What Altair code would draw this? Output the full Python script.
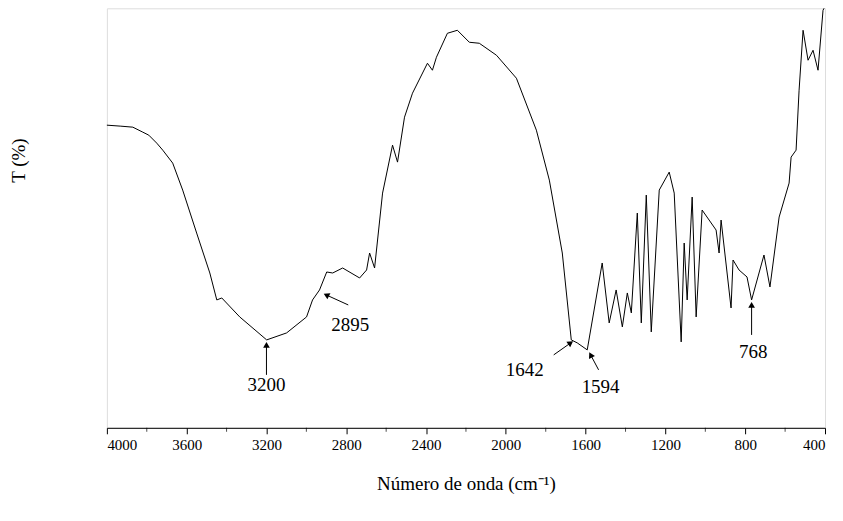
import altair as alt
import pandas as pd

wn = [4000,3930,3870,3820,3790,3750,3720,3670,3620,3550,3484,3449,3424,3334,3199,3099,2999,2969,2934,2898,2868,2818,2733,2698,2683,2658,2618,2568,2543,2508,2468,2393,2368,2348,2293,2243,2183,2133,2047,1947,1847,1782,1717,1672,1642,1592,1517,1482,1447,1416,1391,1371,1341,1321,1296,1271,1231,1181,1156,1121,1106,1091,1066,1046,1016,946,931,921,871,861,831,791,768,706,676,630,580,570,545,530,510,485,460,435,410,405]
T = [303,302,301,296,293,285,278,265,238,195,155,128,130,111,88,95,111,128,138,156,155,160,150,158,175,160,235,283,266,311,335,365,358,371,395,398,386,385,373,350,298,248,175,88,85,78,165,105,138,101,135,115,215,105,233,96,238,256,235,86,185,128,231,111,218,198,175,208,120,168,158,151,128,173,141,211,245,271,278,338,398,368,378,358,418,420]

ann_text = ["3200","2895","1642","1594","768"]
ann_tx = [3200,2780,1905,1525,760]
ann_ty = [43,103,58,41,76]
tail_x = [3200,2790,1760,1535,768]
tail_y = [53,123,73,58,93]
head_x = [3200,2900,1675,1575,768]
head_y = [83,133,85,73,123]
head_ang = [0,297,55,332,0]

df = pd.DataFrame({"wn": wn, "T": T})
ann = pd.DataFrame({"t": ann_text, "tx": ann_tx, "ty": ann_ty, "x1": tail_x, "y1": tail_y,
                    "x2": head_x, "y2": head_y, "ang": head_ang})

font = "Liberation Serif"
xs = alt.Scale(domain=[4000, 400], nice=False)
ys = alt.Scale(domain=[0, 420])

line = alt.Chart(df).mark_line(color="black", strokeWidth=1).encode(
    x=alt.X("wn:Q", scale=xs,
            axis=alt.Axis(values=list(range(4000, 399, -400)), format="d", title="Número de onda (cm⁻¹)",
                          grid=False, tickSize=6, labelFont=font, labelFontSize=15, labelColor="black",
                          titleFont=font, titleFontSize=19, titleFontWeight="normal", titleColor="black",
                          titlePadding=22, domainColor="black", tickColor="black", labelPadding=4)),
    y=alt.Y("T:Q", scale=ys,
            axis=alt.Axis(title="T (%)", labels=False, ticks=False, domain=False, grid=False,
                          titleFont=font, titleFontSize=19, titleFontWeight="normal", titleColor="black",
                          titleX=-78, titleY=152)),
)
minor = alt.Chart(pd.DataFrame({"m": list(range(3800, 399, -400))})).mark_tick(
    color="black", orient="vertical", size=4, thickness=1).encode(
    x=alt.X("m:Q", scale=xs), y=alt.value(422))

rules = alt.Chart(ann).mark_rule(color="black", strokeWidth=1).encode(
    x=alt.X("x1:Q", scale=xs), y=alt.Y("y1:Q", scale=ys), x2="x2:Q", y2="y2:Q")
heads = alt.Chart(ann).mark_point(shape="triangle-up", filled=True, color="black", size=45, opacity=1).encode(
    x=alt.X("x2:Q", scale=xs), y=alt.Y("y2:Q", scale=ys), angle=alt.Angle("ang:Q", scale=None))
texts = alt.Chart(ann).mark_text(font=font, fontSize=19, color="black").encode(
    x=alt.X("tx:Q", scale=xs), y=alt.Y("ty:Q", scale=ys), text="t:N")

chart = alt.layer(line, minor, rules, heads, texts).properties(
    width=719, height=420, autosize="none",
    padding={"left": 99, "top": 0, "right": 10, "bottom": 85}
).configure_view(stroke=None).configure(background="white")

chart.save("out.html", embed_options={"renderer": "svg", "actions": False})
